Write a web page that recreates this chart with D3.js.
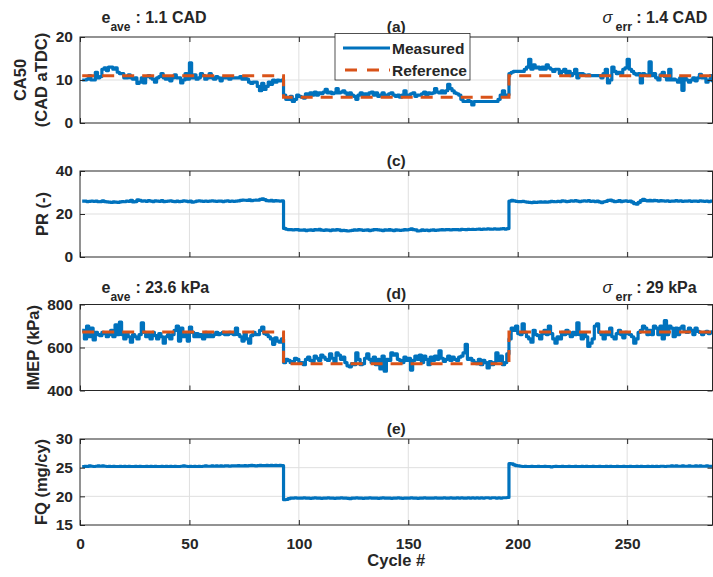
<!DOCTYPE html>
<html><head><meta charset="utf-8">
<script src="https://cdn.jsdelivr.net/npm/d3@7/dist/d3.min.js"></script>
<style>
body{margin:0;background:#fff;}
svg text{font-family:"Liberation Sans",Arial,Helvetica,sans-serif;font-weight:bold;fill:#262626;}
</style></head><body>
<svg id="chart" width="713" height="577"></svg>
<script>
// ---------------- DATA ----------------
const xTicks = [0, 50, 100, 150, 200, 250];
const ca50Ticks = [0, 10, 20];
const prTicks = [0, 20, 40];
const imepTicks = [400, 600, 800];
const fqTicks = [15, 20, 25, 30];

const refCycles = [1, 93, 196, 289];
const ca50Ref = [11, 6, 11, 11];
const imepRef = [672, 525, 672, 672];

const ca50Meas = [
10,10,10.2,11,10,10,11.8,10.5,10.8,12.5,
12.8,12.2,13,13,12.5,12.8,11.8,11.5,11.5,10.5,
10.5,11.2,10.5,10.2,10.5,9.2,9.5,10.5,9.3,10.8,
11,10.5,10.2,9.5,10.5,10.8,11.5,10.5,10.2,10.5,
9.8,10.5,11.2,10.5,10.5,9.3,10,11.5,10.2,14,
10.5,11.2,10.2,10.5,11.5,11,10.2,10.5,11.5,10.5,
10.2,10.8,10.5,9.8,10.5,10.5,10.8,10.2,10.5,10.5,
10.5,10.5,10.8,10.2,10.5,10.2,9.5,9.2,9.5,9.5,
8.5,7.5,9.2,7.8,8.5,9.5,9,10,9.5,10,
9.8,10,6.5,5.5,5.5,6.2,5,5.5,6.5,6.2,
6,5.8,6.8,6.5,7,6.5,7.2,6.5,7,6.8,
7.2,7.8,7,7.2,6.8,7,8,7,7.2,7.5,
7,6.5,7,6.5,6.2,5.5,6.5,7,6.5,6.8,
6.5,7,7.2,6.5,7,6.2,6.5,7,6.5,6.5,
6.8,7,6.5,6.2,6.5,6,6.5,7.5,6.5,6.5,
6.8,7,6.2,6.5,6.5,6.8,7.2,6.5,7,6.8,
7,8,7.2,7,7.5,7,7.5,9,8,7.5,
7,6.8,6.5,5.5,5,5,5.2,5,4.2,5,
5,5,5,5,5,5,5,5,5,5,
5.5,6.5,7.5,6.5,6.5,11.5,11.8,12,12,12,
12,12,12.5,13,14.8,12.5,13.5,12.8,13,12.5,
13,12.5,13.5,12.8,12.5,12,12.5,12.5,11.5,12,
12.5,11.5,12,11,11.5,12.5,10.5,11.5,11.5,11.2,
11,11.2,11,11,11,11,11,10.5,11.5,12.5,
9.3,10,13,12,11.5,11.8,11.5,12.5,12.8,14.8,
12.5,12,11.5,11.2,11.5,9.3,11.5,11.2,11,14.2,
11,11.5,10.5,10,11.2,11.8,10.8,10,12.5,10,
10.2,10,9.5,10.5,7.6,10.5,10,9.5,10,10.5,
9.8,10.5,11.3,10.5,10.5,9.5,10,11,9.5
];

const prMeas = [
26,26,25.8,25.9,26,25.9,26,25.7,25.8,26.1,
25.8,25.6,25.5,25.4,25.6,25.5,25.4,25.6,25.8,25.7,
26,25.9,26.4,25.6,25.8,26.6,26.3,26,26.1,25.9,
26.2,26,25.8,26.1,26,25.9,26.2,25.8,25.9,26,
26.1,25.9,25.7,26,25.8,25.9,26.1,26,25.8,26,
25.5,25.7,26,26.1,26,25.9,26,25.9,26,26.1,
26,25.9,26,26,25.8,26,26.1,25.9,26,25.9,
26,26.1,26.3,26.5,26.4,26.3,26.6,26.2,26.4,26.5,
26.4,26.8,27,26.7,26.2,26.1,26.3,26,26.2,26.1,
26,26.1,13.3,12.9,12.7,12.8,12.6,12.8,12.7,12.5,
12.5,12.6,12.3,12.5,12.6,12.4,12.7,12.6,12.9,12.5,
12.4,12.6,12.5,12.3,12.6,12.5,12.7,12.6,12.2,12.4,
12.3,12.1,12.2,12.4,12.6,12.5,12.7,12.6,12.4,12.5,
12.6,12.3,12.5,12.7,12.8,12.6,12.5,12.3,12.6,12.5,
12.7,12.5,12.3,12.6,12.5,12.4,12.5,12.7,12.6,12.8,
13.1,12.7,12.6,12.1,12.2,12.6,12.4,12.5,12.3,12.5,
12.6,12.4,12.5,12.6,12.7,12.6,12.8,12.7,12.6,12.8,
12.7,12.8,12.6,12.9,12.8,12.7,12.9,12.8,12.9,12.8,
12.9,13,12.8,13,12.9,13.1,13,12.9,13.1,13,
13,13.1,13.2,13,13.2,26,26.3,26.1,25.9,25.8,
25.8,25.9,25.7,25.5,25.4,25.3,25.5,25.4,25.5,25.6,
25.5,25.6,25.5,25.6,25.9,25.8,25.7,25.9,25.8,26.1,
26,25.8,25.9,26.1,26,26.2,26,25.8,26,26.1,
26,26.2,25.9,26,25.8,26,25.6,25.3,25.7,25.9,
26.3,26.5,26.1,25.7,25.9,26.2,25.8,26,26.1,25.9,
26,25.5,24.8,24.6,25.4,26.2,26.8,26.3,26.1,26.3,
26.1,26.4,26.2,26,26.2,26.1,26,26.1,25.9,26,
26,26.2,26,26.1,25.9,26,26,26.1,25.9,26,
26,25.9,26.1,26,25.9,26,25.8,26,25.9
];

const imepMeas = [
680,640,700,650,690,635,670,660,655,670,
665,650,660,680,650,705,660,718,660,640,
665,650,625,660,650,640,660,715,670,650,
660,640,670,655,640,665,650,620,650,660,
640,660,680,700,630,690,650,660,630,695,
670,650,665,650,660,640,670,650,660,650,
660,670,660,665,670,660,660,670,665,660,
690,660,650,630,665,640,620,655,670,660,
660,680,695,665,660,650,640,615,645,630,
625,640,530,545,540,530,535,550,545,530,
530,520,545,555,540,535,560,550,540,565,
555,545,540,570,550,530,575,565,545,555,
530,515,510,525,520,575,545,520,525,550,
570,545,530,555,520,545,500,560,490,545,
540,575,565,570,545,540,530,555,540,550,
495,540,560,545,565,530,560,545,520,555,
540,560,545,585,550,535,545,560,540,555,
545,540,555,560,575,615,545,550,540,530,
525,545,520,540,530,505,535,520,530,575,
540,560,520,530,570,640,690,680,700,665,
660,710,670,650,640,625,680,660,655,640,
665,680,660,700,665,640,620,650,640,670,
660,680,665,650,670,660,715,660,640,665,
650,605,620,640,700,710,670,660,640,670,
660,690,650,640,665,680,660,645,670,665,
660,650,620,640,670,680,700,690,660,680,
660,700,690,660,700,640,725,660,700,690,
650,690,660,690,700,675,670,690,680,660,
690,675,670,660,670,675,665,670,680
];

const fqMeas = [
25.2,25.25,25.2,25.3,25.25,25.2,25.25,25.3,25.25,25.3,
25.25,25.2,25.25,25.2,25.25,25.2,25.2,25.25,25.2,25.25,
25.2,25.25,25.2,25.2,25.25,25.2,25.25,25.2,25.2,25.25,
25.2,25.25,25.2,25.25,25.2,25.2,25.25,25.2,25.25,25.2,
25.25,25.2,25.25,25.2,25.2,25.25,25.3,25.25,25.2,25.25,
25.2,25.25,25.2,25.25,25.2,25.25,25.3,25.25,25.25,25.3,
25.25,25.3,25.25,25.3,25.25,25.3,25.3,25.25,25.3,25.3,
25.3,25.35,25.3,25.3,25.35,25.3,25.35,25.4,25.35,25.3,
25.35,25.4,25.35,25.35,25.4,25.35,25.4,25.35,25.4,25.35,
25.4,25.35,19.4,19.45,19.6,19.7,19.7,19.75,19.7,19.7,
19.7,19.75,19.7,19.7,19.65,19.7,19.75,19.7,19.7,19.65,
19.7,19.7,19.75,19.7,19.7,19.65,19.7,19.7,19.75,19.7,
19.7,19.65,19.6,19.7,19.7,19.75,19.7,19.7,19.65,19.7,
19.7,19.75,19.7,19.7,19.7,19.65,19.7,19.75,19.7,19.7,
19.7,19.65,19.7,19.7,19.75,19.7,19.65,19.7,19.7,19.7,
19.75,19.7,19.7,19.65,19.7,19.7,19.75,19.7,19.7,19.7,
19.7,19.75,19.7,19.7,19.7,19.75,19.7,19.7,19.75,19.7,
19.7,19.75,19.7,19.75,19.7,19.7,19.75,19.7,19.75,19.7,
19.75,19.7,19.75,19.7,19.75,19.75,19.7,19.75,19.75,19.7,
19.75,19.7,19.75,19.75,19.8,25.7,25.65,25.5,25.35,25.3,
25.25,25.2,25.25,25.2,25.2,25.25,25.2,25.2,25.25,25.2,
25.2,25.25,25.2,25.2,25.15,25.2,25.25,25.2,25.2,25.25,
25.2,25.2,25.25,25.2,25.2,25.25,25.2,25.2,25.25,25.2,
25.25,25.2,25.2,25.25,25.2,25.2,25.25,25.2,25.2,25.25,
25.2,25.25,25.2,25.2,25.25,25.2,25.2,25.25,25.2,25.2,
25.25,25.2,25.2,25.25,25.2,25.25,25.2,25.2,25.25,25.2,
25.25,25.2,25.25,25.2,25.25,25.25,25.2,25.25,25.25,25.3,
25.25,25.3,25.25,25.25,25.3,25.25,25.25,25.3,25.25,25.25,
25.3,25.25,25.3,25.25,25.25,25.3,25.25,25.25,25.3
];

const cycles = ca50Meas.map((d, i) => i + 1);

// ---------------- LAYOUT ----------------
const svg = d3.select("#chart");
const BLUE = "#0072BD", ORANGE = "#D95319", AX = "#262626", GRID = "#dfdfdf";
const left = 80, right = 712.5, ph = 86;
const x = d3.scaleLinear().domain([0, 289]).range([left, right]);

const panels = [
  {top: 37, dom: [0, 20], ticks: ca50Ticks, meas: ca50Meas, refv: ca50Ref, title: "(a)", labels: ["CA50", "(CAD aTDC)"], labelX: [20, 41.5]},
  {top: 171, dom: [0, 40], ticks: prTicks, meas: prMeas, refv: null, title: "(c)", labels: ["PR (-)"], labelX: [42.5]},
  {top: 304.5, dom: [400, 800], ticks: imepTicks, meas: imepMeas, refv: imepRef, title: "(d)", labels: ["IMEP (kPa)"], labelX: [33]},
  {top: 439, dom: [15, 30], ticks: fqTicks, meas: fqMeas, refv: null, title: "(e)", labels: ["FQ (mg/cy)"], labelX: [41.5]}
];

panels.forEach((p, pi) => {
  const y = d3.scaleLinear().domain(p.dom).range([p.top + ph, p.top]);
  const g = svg.append("g");
  const cid = "clip" + pi;
  svg.append("clipPath").attr("id", cid).append("rect")
    .attr("x", left).attr("y", p.top).attr("width", right - left).attr("height", ph);

  // grid
  g.selectAll(".gx").data(xTicks.filter(t => t > 0)).enter().append("line")
    .attr("x1", d => x(d)).attr("x2", d => x(d)).attr("y1", p.top).attr("y2", p.top + ph)
    .attr("stroke", GRID).attr("stroke-width", 1);
  g.selectAll(".gy").data(p.ticks.filter(t => t > p.dom[0] && t < p.dom[1])).enter().append("line")
    .attr("x1", left).attr("x2", right).attr("y1", d => y(d)).attr("y2", d => y(d))
    .attr("stroke", GRID).attr("stroke-width", 1);

  // lines
  const line = d3.line().x(d => x(d[0])).y(d => y(d[1])).curve(d3.curveStepAfter);
  const lg = g.append("g").attr("clip-path", `url(#${cid})`);
  lg.append("path").datum(cycles.map((c, i) => [c, p.meas[i]]))
    .attr("d", line).attr("fill", "none").attr("stroke", BLUE)
    .attr("stroke-width", 3.2).attr("stroke-linejoin", "round");
  if (p.refv) {
    lg.append("path").datum(refCycles.map((c, i) => [c, p.refv[i]]))
      .attr("d", line).attr("fill", "none").attr("stroke", ORANGE)
      .attr("stroke-width", 3).attr("stroke-dasharray", "12,8");
  }

  // axes
  const ay = g.append("g").attr("transform", `translate(${left},0)`)
    .call(d3.axisLeft(y).tickValues(p.ticks).tickSizeInner(-5).tickSizeOuter(0).tickPadding(7).tickFormat(d3.format("d")));
  const ayr = g.append("g").attr("transform", `translate(${right},0)`)
    .call(d3.axisRight(y).tickValues(p.ticks).tickSizeInner(-5).tickSizeOuter(0).tickFormat(""));
  const axt = g.append("g").attr("transform", `translate(0,${p.top})`)
    .call(d3.axisTop(x).tickValues(xTicks).tickSizeInner(-5).tickSizeOuter(0).tickFormat(""));
  const axb = g.append("g").attr("transform", `translate(0,${p.top + ph})`)
    .call(d3.axisBottom(x).tickValues(xTicks).tickSizeInner(-5).tickSizeOuter(0).tickPadding(13)
      .tickFormat(pi === panels.length - 1 ? d3.format("d") : ""));
  [ay, ayr, axt, axb].forEach(a => {
    a.select(".domain").remove();
    a.selectAll("line").attr("stroke", AX);
    a.selectAll("text").attr("font-size", 15.5).attr("fill", AX)
      .style("font-family", '"Liberation Sans",Arial,sans-serif').style("font-weight", "bold");
  });
  g.append("rect").attr("x", left).attr("y", p.top).attr("width", right - left).attr("height", ph)
    .attr("fill", "none").attr("stroke", AX).attr("stroke-width", 1);

  // title
  g.append("text").attr("x", (left + right) / 2).attr("y", p.top - 5.5)
    .attr("text-anchor", "middle").attr("font-size", 15.5).text(p.title);

  // y labels
  p.labels.forEach((lab, li) => {
    g.append("text")
      .attr("transform", `translate(${p.labelX[li]},${p.top + ph / 2}) rotate(-90)`)
      .attr("text-anchor", "middle").attr("dy", "0.35em").attr("font-size", 16.5).text(lab);
  });
});

// x axis label
svg.append("text").attr("x", (left + right) / 2).attr("y", 566)
  .attr("text-anchor", "middle").attr("font-size", 16.5).text("Cycle #");

// annotations
function eAve(yb, val) {
  const t = svg.append("text").attr("x", 101.5).attr("y", yb).attr("font-size", 16);
  t.append("tspan").text("e");
  t.append("tspan").attr("font-size", 12).attr("dy", 8).text("ave");
  t.append("tspan").attr("dy", -8).attr("dx", 5).text(": " + val);
}
function sErr(yb, val) {
  const t = svg.append("text").attr("x", 602.5).attr("y", yb).attr("font-size", 16.5);
  t.append("tspan").style("font-style", "italic").style("font-weight", "normal").text("σ");
  t.append("tspan").attr("font-size", 12.5).attr("dy", 8).attr("dx", 3).text("err");
  t.append("tspan").attr("font-size", 16).attr("dy", -8).attr("dx", 4).text(": " + val);
}
eAve(22.7, "1.1 CAD");
sErr(22.7, "1.4 CAD");
eAve(292.5, "23.6 kPa");
sErr(292.5, "29 kPa");

// legend
const leg = svg.append("g");
leg.append("rect").attr("x", 335).attr("y", 33.5).attr("width", 135).attr("height", 46.5)
  .attr("fill", "#fff").attr("stroke", AX).attr("stroke-width", 0.8);
leg.append("line").attr("x1", 343).attr("x2", 390).attr("y1", 48).attr("y2", 48)
  .attr("stroke", BLUE).attr("stroke-width", 3.2);
leg.append("line").attr("x1", 345).attr("x2", 390).attr("y1", 70).attr("y2", 70)
  .attr("stroke", ORANGE).attr("stroke-width", 3).attr("stroke-dasharray", "12,10");
leg.append("text").attr("x", 392).attr("y", 53.5).attr("font-size", 15.5).text("Measured");
leg.append("text").attr("x", 392).attr("y", 75.5).attr("font-size", 15.5).text("Reference");
</script>
</body></html>
